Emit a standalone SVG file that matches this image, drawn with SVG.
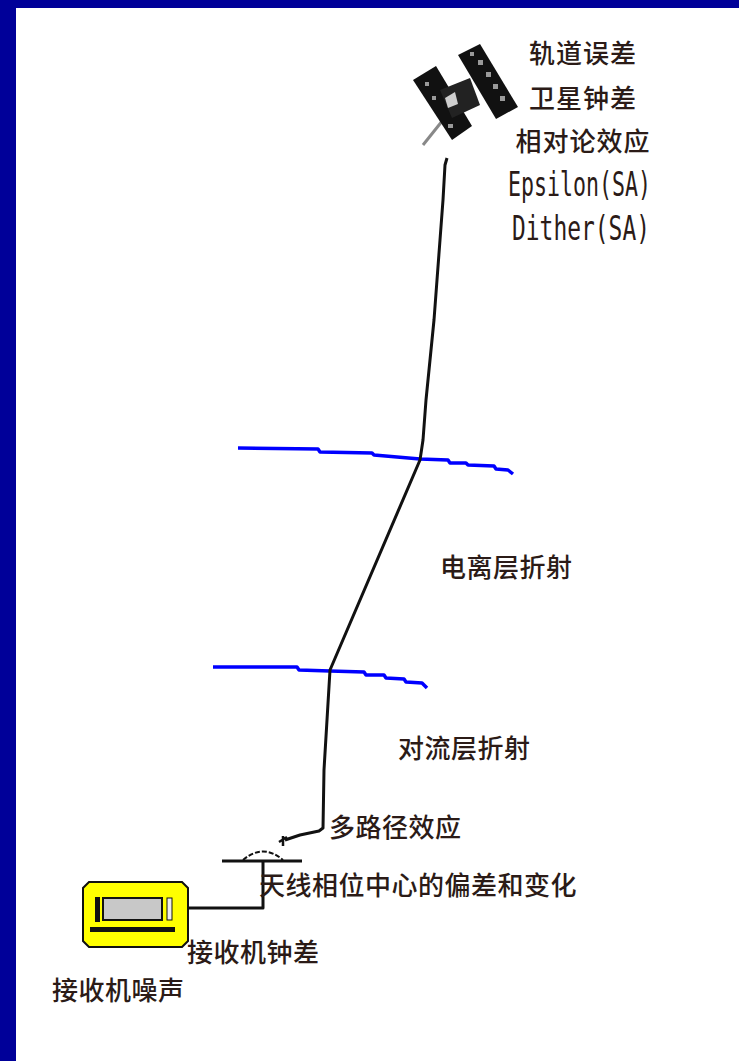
<svg xmlns="http://www.w3.org/2000/svg" width="739" height="1061" viewBox="0 0 739 1061">
  <style>
    .lbl { font-family: "Noto Sans CJK SC", "Liberation Sans", sans-serif; font-size: 26px; fill: #2b1b17; font-weight: 500; }
    .mono { font-family: "DejaVu Sans Mono", "Liberation Mono", monospace; font-size: 34px; fill: #2b1b17; }
    .ray { fill: none; stroke: #111; stroke-width: 3; stroke-linejoin: round; }
    .layer { fill: none; stroke: #0000ff; stroke-width: 3.5; stroke-linejoin: round; }
  </style>

  <!-- page frame -->
  <rect x="0" y="0" width="739" height="1061" fill="#ffffff"/>
  <rect x="0" y="0" width="739" height="8" fill="#000099"/>
  <rect x="0" y="0" width="16" height="1061" fill="#000099"/>

  <!-- atmospheric layers -->
  <g id="ionosphere-boundary">
    <polyline class="layer" points="238,448 318,449 320,452 372,453 374,455 420,459 448,460 450,463 466,463 468,465 494,466 496,469 508,470 513,474"/>
  </g>
  <g id="troposphere-boundary">
    <polyline class="layer" points="213,667 297,667 299,670 330,671 364,672 366,675 384,675 386,678 404,679 406,682 422,683 427,688"/>
  </g>

  <!-- signal path from satellite to antenna -->
  <g id="connectors">
    <polyline class="ray" points="447,158 445,165 443,200 440,240 437,280 434,320 430,360 426,400 423,440 420,460 330,670 327,720 324,770 323,828 319,831 300,835 285,840"/>
    <path d="M279,842 l8,-5 M283,836 l0,10" stroke="#111" stroke-width="2.5" fill="none"/>
    <polyline class="ray" points="263,862 263,908 188,908"/>
  </g>

  <!-- satellite -->
  <g id="satellite">
    <line x1="443" y1="120" x2="423" y2="145" stroke="#888" stroke-width="3"/>
    <polygon points="413,80 436,66 472,126 452,140" fill="#111"/>
    <polygon points="458,55 480,44 518,107 496,119" fill="#111"/>
    <polygon points="440,90 470,78 480,105 452,118" fill="#222"/>
    <g fill="#9a9a9a">
      <rect x="478" y="60" width="5" height="5"/>
      <rect x="486" y="72" width="5" height="5"/>
      <rect x="493" y="84" width="5" height="5"/>
      <rect x="500" y="96" width="5" height="5"/>
      <rect x="470" y="52" width="4" height="4"/>
      <rect x="425" y="82" width="4" height="4"/>
      <rect x="432" y="96" width="4" height="4"/>
      <rect x="448" y="124" width="5" height="4"/>
      <polygon points="445,98 455,92 458,104 448,108" fill="#cfcfcf"/>
    </g>
  </g>

  <!-- satellite-side error sources -->
  <g id="satellite-errors">
    <text class="lbl" x="583" y="63" text-anchor="middle" letter-spacing="1">轨道误差</text>
    <text class="lbl" x="583" y="108" text-anchor="middle" letter-spacing="1">卫星钟差</text>
    <text class="lbl" x="583" y="151" text-anchor="middle" letter-spacing="1">相对论效应</text>
    <text class="mono" x="508" y="196" textLength="143" lengthAdjust="spacingAndGlyphs">Epsilon(SA)</text>
    <text class="mono" x="512" y="240" textLength="138" lengthAdjust="spacingAndGlyphs">Dither(SA)</text>
  </g>

  <g id="ionosphere-label">
    <text class="lbl" x="440" y="577" letter-spacing="0.5">电离层折射</text>
  </g>
  <g id="troposphere-label">
    <text class="lbl" x="398" y="758" letter-spacing="0.5">对流层折射</text>
  </g>
  <g id="multipath-label">
    <text class="lbl" x="329" y="837" letter-spacing="0.5">多路径效应</text>
  </g>

  <!-- antenna -->
  <g id="antenna">
    <line x1="222" y1="861" x2="302" y2="861" stroke="#111" stroke-width="3"/>
    <path d="M243,860 Q263,843 283,860" fill="none" stroke="#111" stroke-width="2" stroke-dasharray="5,2"/>
    <text class="lbl" x="259" y="895" letter-spacing="0.5">天线相位中心的偏差和变化</text>
  </g>

  <!-- receiver -->
  <g id="receiver">
    <polygon points="89,882 182,882 188,888 188,941 182,947 89,947 83,941 83,888" fill="#ffff00" stroke="#111" stroke-width="2"/>
    <rect x="95" y="897" width="5" height="25" fill="#111"/>
    <rect x="103" y="898" width="59" height="22" fill="#c8c8c8" stroke="#111" stroke-width="2"/>
    <rect x="167" y="898" width="5" height="22" fill="#eeeeee" stroke="#111" stroke-width="1"/>
    <rect x="90" y="927" width="85" height="5" fill="#111"/>
    <text class="lbl" x="187" y="962" letter-spacing="0.5">接收机钟差</text>
    <text class="lbl" x="52" y="1000" letter-spacing="0.5">接收机噪声</text>
  </g>
</svg>
